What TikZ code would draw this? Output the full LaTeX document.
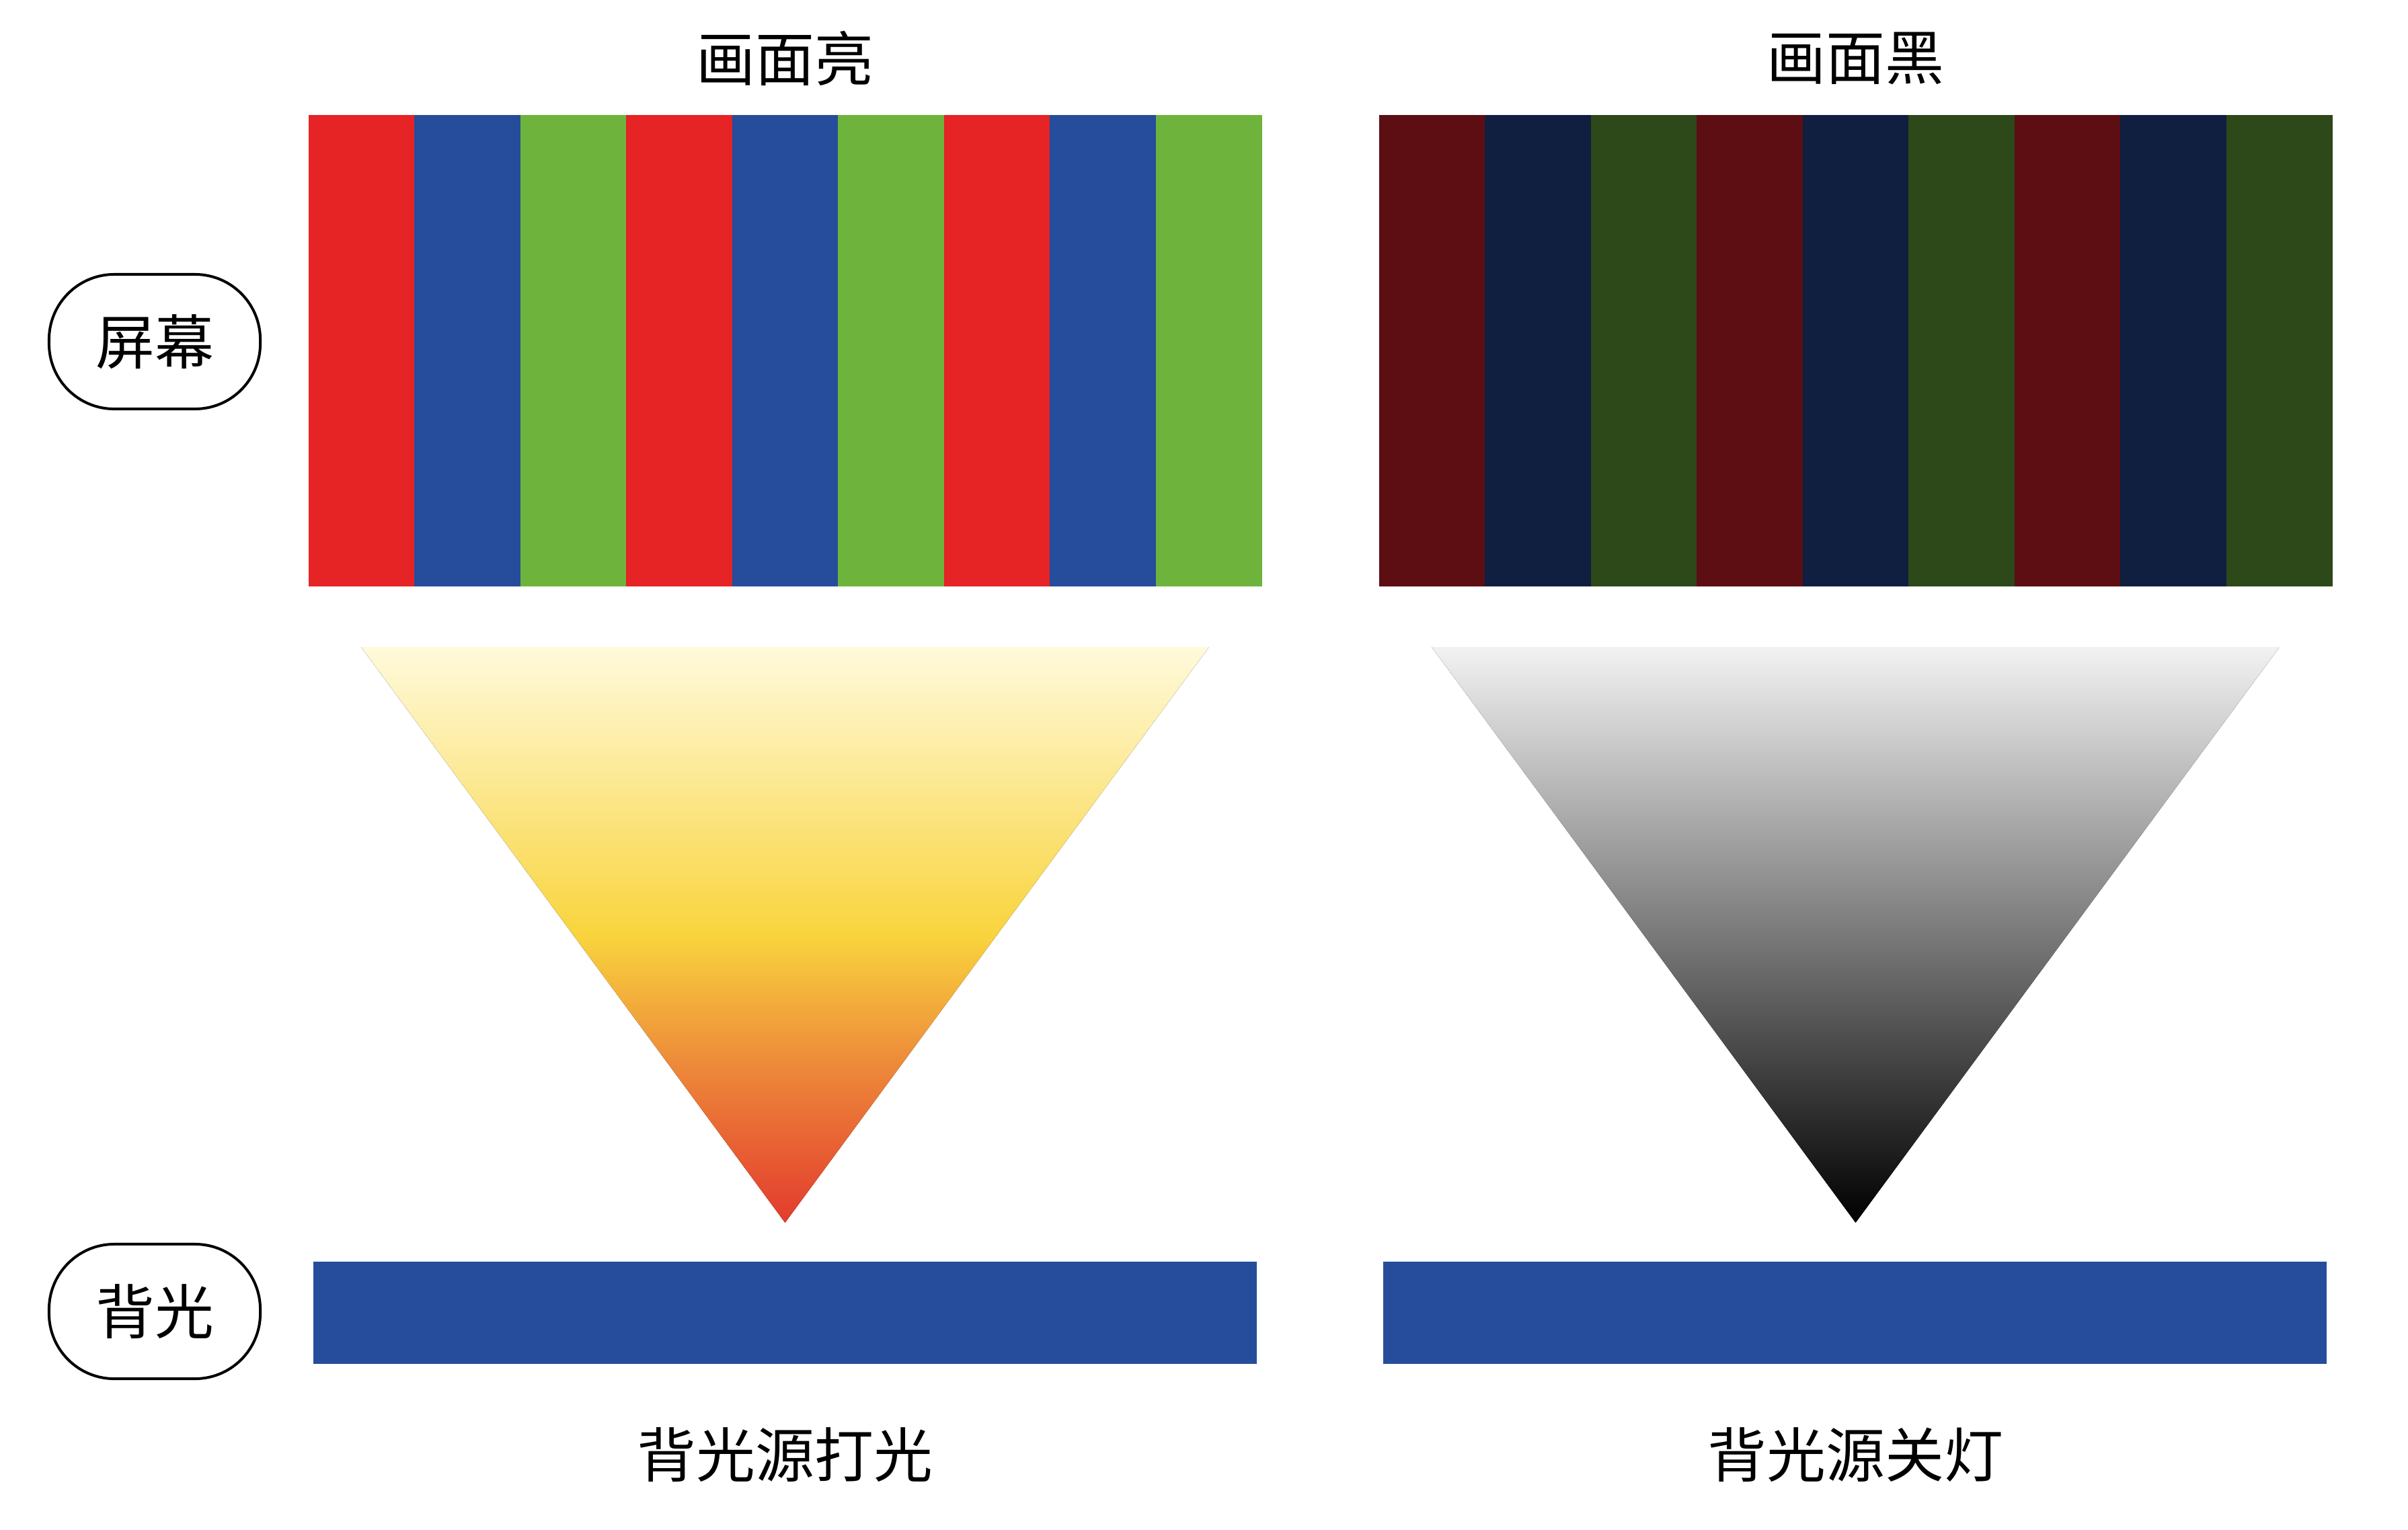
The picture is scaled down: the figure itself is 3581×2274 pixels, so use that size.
\documentclass[tikz,border=0pt]{standalone}
\usepackage{fontspec}
\setmainfont{Noto Sans CJK SC}
\definecolor{pixRed}{HTML}{E62325}
\definecolor{pixBlue}{HTML}{254D9B}
\definecolor{pixGreen}{HTML}{6EB43C}
\definecolor{dimRed}{HTML}{5C0E12}
\definecolor{dimBlue}{HTML}{101E40}
\definecolor{dimGreen}{HTML}{2D4819}
\definecolor{lampRed}{HTML}{E33B2D}
\definecolor{lampOrange}{HTML}{ED8B3A}
\definecolor{lampYellow}{HTML}{F9D43D}
\definecolor{lampPale}{HTML}{FFFADC}
\definecolor{lampGray}{HTML}{F2F2F2}
\pgfdeclareverticalshading{lampon}{100bp}{color(0bp)=(lampRed); color(25bp)=(lampRed); color(39bp)=(lampOrange); color(50bp)=(lampYellow); color(75bp)=(lampPale); color(100bp)=(lampPale)}
\pgfdeclareverticalshading{lampoff}{100bp}{color(0bp)=(black); color(25bp)=(black); color(75bp)=(lampGray); color(100bp)=(lampGray)}
\tikzset{
    tagbox/.style={draw, line width=0.04cm, rounded corners=0.97cm, minimum width=3.14cm, minimum height=2cm, inner sep=0pt},
    caption/.style={font=\fontsize{25}{30}\selectfont}
}
\begin{document}
\begin{tikzpicture}[x=0.01cm, y=-0.01cm, every node/.style={font=\fontsize{25}{30}\selectfont}]
        \useasboundingbox (0,0) rectangle (3581,2274);
        % 屏幕
        \foreach \k in {0,1,2}
            \foreach \j/\cl/\dk in {0/pixRed/dimRed, 1/pixBlue/dimBlue, 2/pixGreen/dimGreen} {
                \fill[\cl] ({459+(3*\k+\j)*157.44},171) rectangle +(158,701);
                \fill[\dk] ({2051+(3*\k+\j)*157.44},171) rectangle +(158,701);
            }
        % 光
        \fill[shading=lampon] (537,962) -- (1798,962) -- (1167.5,1818) -- cycle;
        \fill[shading=lampoff] (2129,962) -- (3390,962) -- (2759.5,1818) -- cycle;
        % 背光
        \fill[pixBlue] (466,1876) rectangle (1869,2028);
        \fill[pixBlue] (2057,1876) rectangle (3460,2028);
        \node (brightTitle) at (1167.5,87) {画面亮};
        \node (darkTitle) at (2759.5,87) {画面黑};
        \node (lightOn) at (1167.5,2163) {背光源打光};
        \node (lightOff) at (2759.5,2163) {背光源关灯};
        \node[tagbox] (screenTag) at (230,508) {屏幕};
        \node[tagbox] (backTag) at (230,1950) {背光};
\end{tikzpicture}
\end{document}
